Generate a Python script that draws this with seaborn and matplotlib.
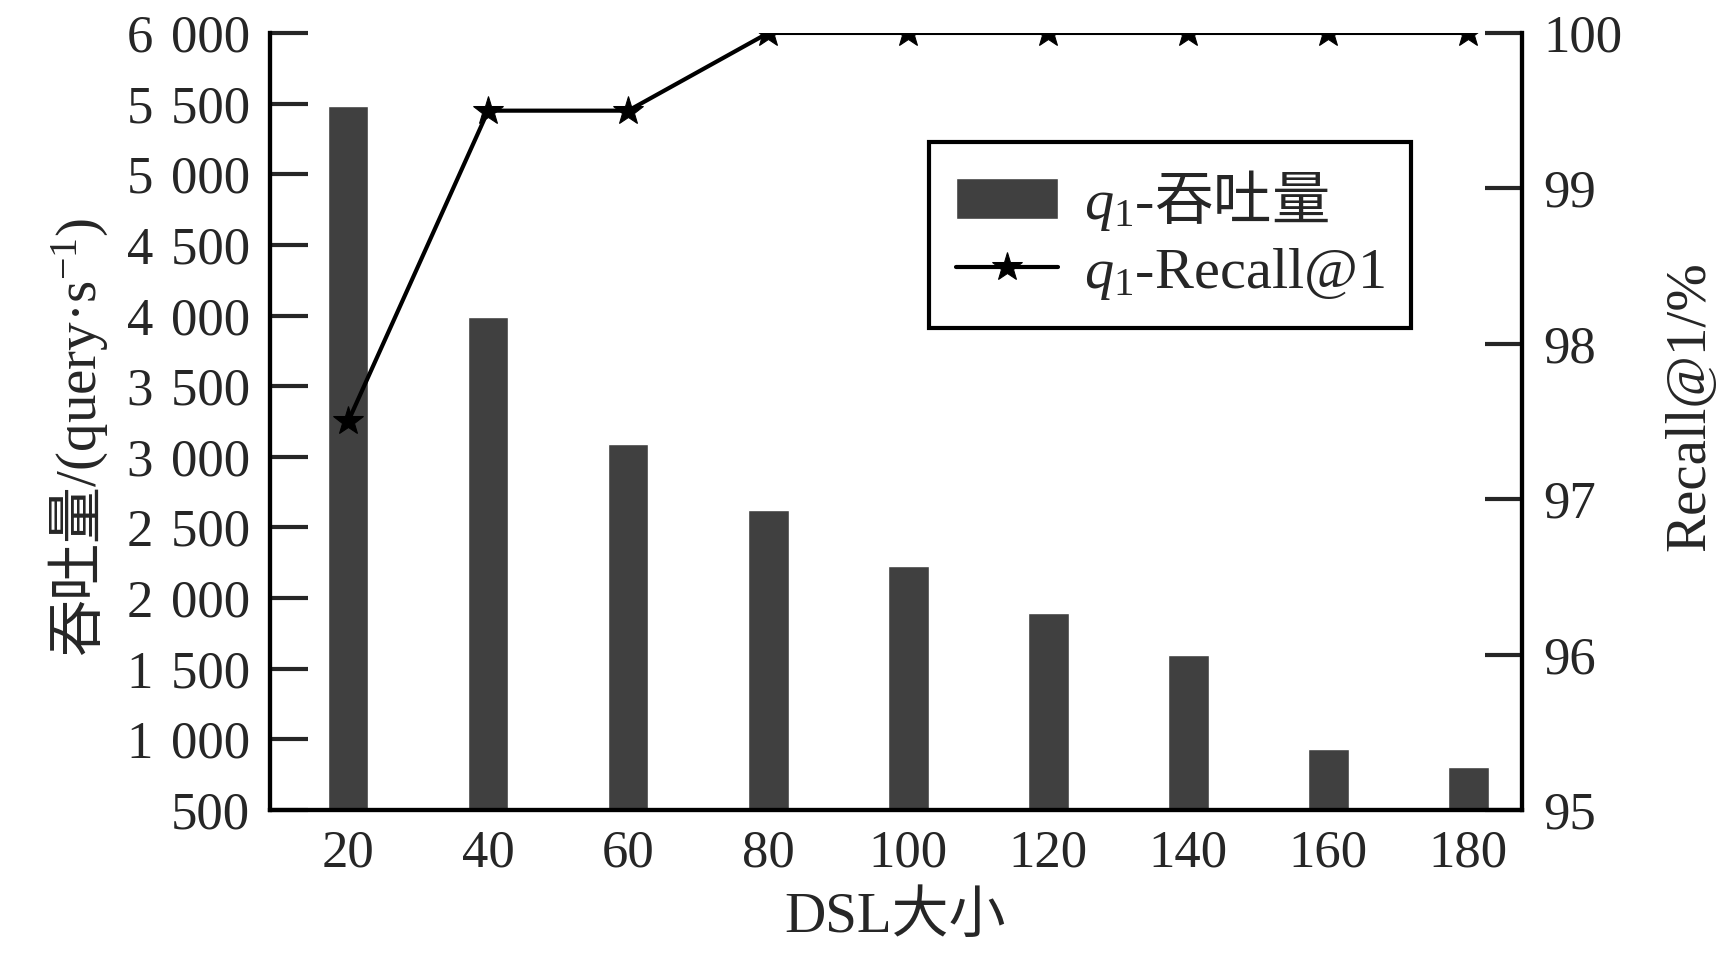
"""
Throughput and Recall@1 versus DSL size, bars on the left axis and a star line on the right.
"""
import numpy as np
import pandas as pd
import matplotlib
matplotlib.use("Agg")
import matplotlib.pyplot as plt
import seaborn as sns

# --- Data ---
dsl_sizes = ["20", "40", "60", "80", "100", "120", "140", "160", "180"]
throughput = [5485, 3990, 3090, 2620, 2225, 1895, 1595, 930, 805]
recall = [97.5, 99.5, 99.5, 100, 100, 100, 100, 100, 100]
left_ticks = [500, 1000, 1500, 2000, 2500, 3000, 3500, 4000, 4500, 5000, 5500, 6000]
right_ticks = [95, 96, 97, 98, 99, 100]

BAR_COLOR = "#404040"
FONT = ["Liberation Serif", "Noto Sans CJK SC"]
TICK_SIZE = 38
LABEL_SIZE = 41


def main():
    sns.set_theme(style="white")
    plt.rcParams["font.family"] = FONT
    # math fonts: serif for Latin, CJK font for the Chinese pieces
    plt.rcParams["mathtext.fontset"] = "custom"
    plt.rcParams["mathtext.rm"] = "Liberation Serif"
    plt.rcParams["mathtext.it"] = "Liberation Serif:italic"
    plt.rcParams["mathtext.bf"] = "Noto Sans CJK SC:weight=bold"
    plt.rcParams["mathtext.sf"] = "Noto Sans CJK SC"
    plt.rcParams["axes.linewidth"] = 3

    df = pd.DataFrame({"DSL": dsl_sizes, "Throughput": throughput,
                       "Recall": recall, "pos": np.arange(len(dsl_sizes))})

    fig, ax = plt.subplots(figsize=(17.29, 9.58), dpi=100)
    fig.subplots_adjust(left=0.156, right=0.880, top=0.9656, bottom=0.1545)

    sns.barplot(data=df, x="DSL", y="Throughput", color=BAR_COLOR, width=0.29,
                saturation=1, ax=ax, label=r"$q_{\mathrm{1}}$-$\mathbf{吞吐量}$")
    if ax.get_legend() is not None:
        ax.get_legend().remove()
    ax.set_ylim(500, 6000)
    ax.set_xlim(-0.56, 8.38)
    ax.set_yticks(left_ticks)
    # thousands separated by a three-per-em space, as in the original
    ax.set_yticklabels([f"{v:,}".replace(",", "\u2004") for v in left_ticks])

    ax2 = ax.twinx()
    sns.lineplot(data=df, x="pos", y="Recall", color="black", linewidth=3,
                 marker="*", markersize=22, markeredgecolor="black",
                 ax=ax2, label=r"$q_{\mathrm{1}}$-Recall@1", legend=False)
    ax2.set_ylim(95, 100)
    ax2.set_yticks(right_ticks)

    for a in (ax, ax2):
        a.spines["top"].set_visible(False)
        for s in a.spines.values():
            s.set_linewidth(3)
            s.set_color("black")
    ax.tick_params(axis="y", direction="in", length=27, width=3, labelsize=TICK_SIZE,
                   pad=14, left=True)
    ax.tick_params(axis="x", length=0, labelsize=TICK_SIZE, pad=14)
    ax2.tick_params(axis="y", direction="in", length=27, width=3, labelsize=TICK_SIZE,
                    pad=16, right=True)

    ax.set_xlabel("DSL大小", fontsize=LABEL_SIZE, labelpad=10)
    ax.set_ylabel(r"$\mathsf{吞吐量}$/(query·s$^{\mathrm{-1}}$)", fontsize=LABEL_SIZE, labelpad=12)
    ax2.set_ylabel("Recall@1/%", fontsize=LABEL_SIZE, labelpad=30)
    ax.yaxis.label.set_y(0.48)
    ax2.yaxis.label.set_y(0.52)

    h1, l1 = ax.get_legend_handles_labels()
    h2, l2 = ax2.get_legend_handles_labels()
    leg = ax2.legend(h1 + h2, l1 + l2, loc="upper left", bbox_to_anchor=(0.527, 0.86),
                     borderaxespad=0, fontsize=42, frameon=True, fancybox=False,
                     framealpha=1, handlelength=1.75, handletextpad=0.45,
                     borderpad=0.45, labelspacing=0.22)
    leg.get_frame().set_edgecolor("black")
    leg.get_frame().set_linewidth(3)

    fig.savefig("out.png", dpi=100)


if __name__ == "__main__":
    main()
